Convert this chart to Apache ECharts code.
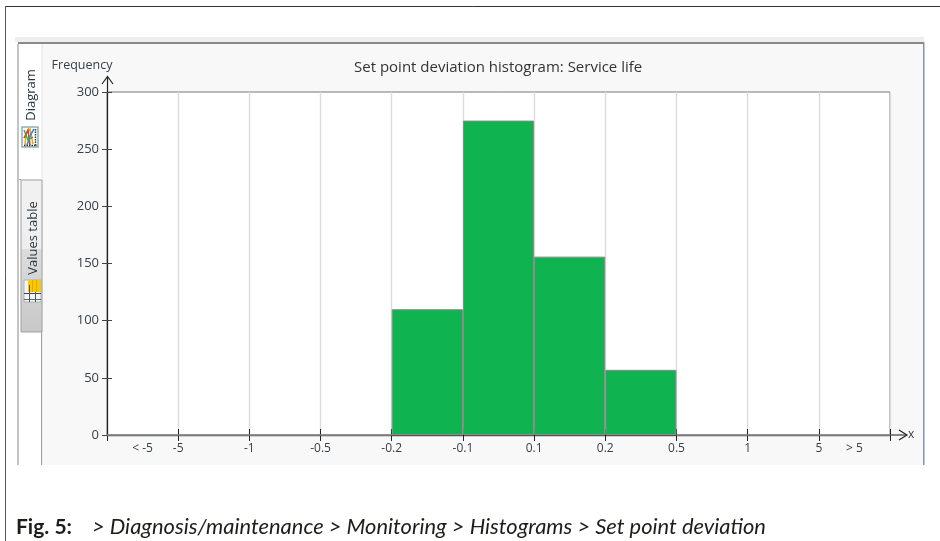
<!DOCTYPE html>
<html>
<head>
<meta charset="utf-8">
<style>
  html, body { margin: 0; padding: 0; background: #fff; }
  #chart { width: 940px; height: 541px; }
</style>
<script src="https://cdn.jsdelivr.net/npm/echarts@6/dist/echarts.min.js"></script>
</head>
<body>
<div id="chart"></div>
<script>
// histogram bins, left to right
const binLabels = ['< -5', '', '', '', '', '', '', '', '', '', '> 5'];
const frequency = [0, 0, 0, 0, 110, 275, 156, 57, 0, 0, 0];
// labels on the bin edges (first and last edge have none)
const edgeLabels = ['', '-5', '-1', '-0.5', '-0.2', '-0.1', '0.1', '0.2', '0.5', '1', '5', ''];

const uiFont = '"Open Sans", "Noto Sans", sans-serif';
const textColor = '#36404a';
const axisColor = '#222';

// window chrome around the plot, behind the grid
const chrome = [
  { type: 'line', shape: { x1: 5.5, y1: 6.5, x2: 940, y2: 6.5 }, style: { stroke: '#333', lineWidth: 1 } },
  { type: 'line', shape: { x1: 5.5, y1: 6, x2: 5.5, y2: 541 }, style: { stroke: '#555', lineWidth: 1 } },
  { type: 'rect', shape: { x: 15, y: 37, width: 909, height: 5 }, style: { fill: '#eeeeee' } },
  { type: 'rect', shape: { x: 18, y: 42, width: 906, height: 423 }, style: { fill: '#f8f8f8' } },
  { type: 'rect', shape: { x: 18, y: 42, width: 906, height: 2 }, style: { fill: '#8a8a8a' } },
  { type: 'rect', shape: { x: 923, y: 42, width: 1.5, height: 423 }, style: { fill: '#8296a8' } },
  { type: 'rect', shape: { x: 18, y: 44, width: 24, height: 421 }, style: { fill: '#ffffff' } },
  { type: 'rect', shape: { x: 17, y: 44, width: 2, height: 421 }, style: { fill: '#c4c4c4' } },
  { type: 'line', shape: { x1: 42, y1: 44, x2: 42, y2: 465 }, style: { stroke: '#e4e4e4', lineWidth: 1 } },
  { type: 'line', shape: { x1: 41.5, y1: 330, x2: 41.5, y2: 465 }, style: { stroke: '#a0a0a0', lineWidth: 1 } },
  { type: 'line', shape: { x1: 19, y1: 179.5, x2: 21, y2: 179.5 }, style: { stroke: '#a0a0a0', lineWidth: 1 } },
  {
    type: 'rect', shape: { x: 21, y: 180, width: 21, height: 152 },
    style: {
      stroke: '#a0a0a0', lineWidth: 1,
      fill: new echarts.graphic.LinearGradient(0, 0, 0, 1, [
        { offset: 0, color: '#f2f2f2' }, { offset: 0.45, color: '#eeeeee' },
        { offset: 0.46, color: '#dcdcdc' }, { offset: 1, color: '#c8c8c8' }
      ])
    }
  },
  {
    type: 'text', x: 31, y: 95, rotation: Math.PI / 2,
    style: { text: 'Diagram', font: '13px ' + uiFont, fill: '#2c3640', align: 'center', verticalAlign: 'middle' }
  },
  {
    type: 'text', x: 33, y: 238, rotation: Math.PI / 2,
    style: { text: 'Values table', font: '13px ' + uiFont, fill: '#2c3640', align: 'center', verticalAlign: 'middle' }
  },
  // tab icons
  { type: 'rect', shape: { x: 22, y: 127, width: 16, height: 20 }, style: { fill: '#fff', stroke: '#8fb0b8', lineWidth: 1.5 } },
  { type: 'polyline', shape: { points: [[25, 145], [26, 134], [30, 129], [33, 144]] }, style: { fill: 'none', stroke: '#e8a820', lineWidth: 1.6 } },
  { type: 'polyline', shape: { points: [[24, 138], [28, 130], [30, 145]] }, style: { fill: 'none', stroke: '#d8402a', lineWidth: 1.6 } },
  { type: 'polyline', shape: { points: [[27, 145], [31, 134], [34, 129]] }, style: { fill: 'none', stroke: '#2f8fd0', lineWidth: 1.6 } },
  { type: 'polyline', shape: { points: [[24, 130], [28, 140], [33, 137]] }, style: { fill: 'none', stroke: '#3aa64a', lineWidth: 1.4 } },
  { type: 'line', shape: { x1: 35.5, y1: 129, x2: 35.5, y2: 146 }, style: { stroke: '#333', lineWidth: 1.5, lineDash: [1.5, 1] } },
  { type: 'line', shape: { x1: 24, y1: 145.5, x2: 37, y2: 145.5 }, style: { stroke: '#333', lineWidth: 1.5, lineDash: [1.5, 1] } },
  { type: 'rect', shape: { x: 24, y: 280, width: 17, height: 22 }, style: { fill: '#f4f6f6', stroke: '#a0b4ba', lineWidth: 1 } },
  { type: 'rect', shape: { x: 28, y: 280, width: 13, height: 12 }, style: { fill: '#f8c800' } },
  { type: 'line', shape: { x1: 32.5, y1: 280, x2: 32.5, y2: 292 }, style: { stroke: '#e0a800', lineWidth: 1 } },
  { type: 'line', shape: { x1: 36.5, y1: 280, x2: 36.5, y2: 292 }, style: { stroke: '#e0a800', lineWidth: 1 } },
  { type: 'line', shape: { x1: 24, y1: 293.5, x2: 41, y2: 293.5 }, style: { stroke: '#444', lineWidth: 1 } },
  { type: 'line', shape: { x1: 24, y1: 299.5, x2: 41, y2: 299.5 }, style: { stroke: '#666', lineWidth: 1 } },
  { type: 'line', shape: { x1: 29.5, y1: 285, x2: 29.5, y2: 302 }, style: { stroke: '#555', lineWidth: 1 } },
  { type: 'line', shape: { x1: 35.5, y1: 292, x2: 35.5, y2: 302 }, style: { stroke: '#555', lineWidth: 1 } }
].map((el) => Object.assign(el, { z: -10 }));

// axis arrows run past the plot area; caption below the window
const overlay = [
  { type: 'line', z: 10, shape: { x1: 107.5, y1: 92, x2: 107.5, y2: 77 }, style: { stroke: axisColor, lineWidth: 1.2 } },
  { type: 'polyline', z: 10, shape: { points: [[102, 84], [107.5, 76.5], [113, 84]] }, style: { fill: 'none', stroke: axisColor, lineWidth: 1.2 } },
  { type: 'line', z: 10, shape: { x1: 890, y1: 435, x2: 906, y2: 435 }, style: { stroke: '#555', lineWidth: 1.4 } },
  { type: 'polyline', z: 10, shape: { points: [[899, 430], [907, 435], [899, 440]] }, style: { fill: 'none', stroke: axisColor, lineWidth: 1.2 } },
  {
    type: 'text', x: 16, y: 527,
    style: { text: 'Fig. 5:', font: 'bold 21px Lato, sans-serif', fill: '#1d1d1b', verticalAlign: 'middle' }
  },
  {
    type: 'text', x: 92, y: 527,
    style: {
      text: '> Diagnosis/maintenance > Monitoring > Histograms > Set point deviation',
      font: 'italic 21.9px Lato, sans-serif', fill: '#1d1d1b', verticalAlign: 'middle'
    }
  }
];

const chart = echarts.init(document.getElementById('chart'));
chart.setOption({
  animation: false,
  backgroundColor: '#fff',
  graphic: chrome.concat(overlay),
  title: {
    text: 'Set point deviation histogram: Service life',
    left: 349, top: 55,
    textStyle: { fontFamily: uiFont, fontSize: 15, fontWeight: 'normal', color: '#333' }
  },
  grid: {
    left: 107, right: 50, top: 92, bottom: 106,
    show: true, backgroundColor: '#fff', borderColor: '#777', borderWidth: 1
  },
  xAxis: [
    {
      type: 'category', data: binLabels, position: 'bottom',
      axisLine: { show: false }, axisTick: { show: false }, splitLine: { show: false },
      axisLabel: { interval: 0, margin: 8, fontFamily: uiFont, fontSize: 12, color: textColor }
    },
    {
      type: 'value', min: 0, max: 11, interval: 1, position: 'bottom',
      name: 'x', nameLocation: 'end', nameGap: 18,
      nameTextStyle: { fontFamily: uiFont, fontSize: 12, color: textColor },
      axisLine: { lineStyle: { color: '#555', width: 1.4 } },
      axisTick: { length: 6, lineStyle: { color: axisColor } },
      splitLine: { show: true, lineStyle: { color: '#dcdcdc', width: 1.4 } },
      axisLabel: {
        margin: 8, fontFamily: uiFont, fontSize: 12, color: textColor,
        showMinLabel: true, showMaxLabel: true,
        formatter: (v) => edgeLabels[v]
      }
    },
    {
      // upper half of the x ticks
      type: 'value', min: 0, max: 11, interval: 1, position: 'bottom',
      axisLine: { show: false }, splitLine: { show: false },
      axisTick: { inside: true, length: 6, lineStyle: { color: axisColor } },
      axisLabel: { show: false }
    }
  ],
  yAxis: [
    {
      type: 'value', min: 0, max: 300, interval: 50, position: 'left',
      name: 'Frequency', nameLocation: 'end', nameGap: 20,
      nameTextStyle: { fontFamily: uiFont, fontSize: 12.5, color: textColor, align: 'center', padding: [0, 50, 0, 0] },
      axisLine: { show: true, lineStyle: { color: axisColor, width: 1.2 } },
      axisTick: { show: true, length: 5, lineStyle: { color: '#444' } },
      splitLine: { show: false },
      axisLabel: { margin: 8, fontFamily: uiFont, fontSize: 13, color: textColor }
    },
    {
      // inner half of the y ticks
      type: 'value', min: 0, max: 300, interval: 50, position: 'left',
      axisLine: { show: false }, splitLine: { show: false },
      axisTick: { show: true, inside: true, length: 5, lineStyle: { color: '#444' } },
      axisLabel: { show: false }
    }
  ],
  series: [{
    type: 'bar',
    data: frequency,
    xAxisIndex: 0,
    yAxisIndex: 0,
    barWidth: '100%',
    z: 3,
    itemStyle: { color: '#0fb450', borderColor: '#8a8a8a', borderWidth: 1 }
  }]
});
</script>
</body>
</html>
